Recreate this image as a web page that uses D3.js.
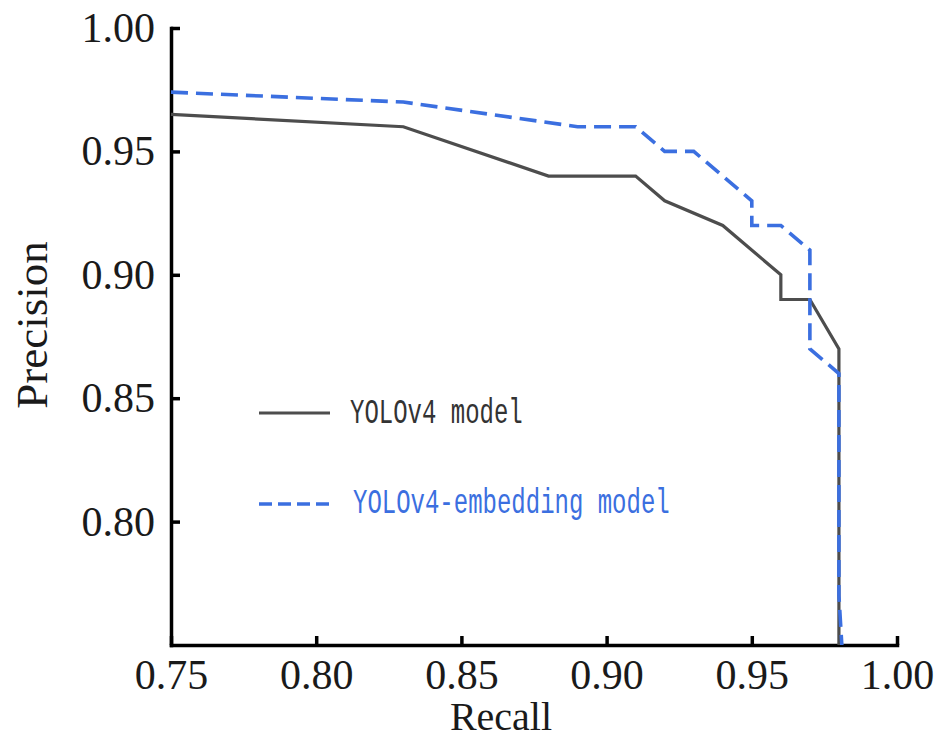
<!DOCTYPE html>
<html>
<head>
<meta charset="utf-8">
<script src="https://cdn.jsdelivr.net/npm/d3@7"></script>
<style>
  html, body { margin: 0; padding: 0; background: #fff; }
  svg { display: block; }
</style>
</head>
<body>
<svg id="chart" width="943" height="740"></svg>
<script>
// ---- data ----
const yoloRecall    = [0.75, 0.83, 0.88, 0.91, 0.92, 0.94, 0.96, 0.96, 0.97, 0.98, 0.98];
const yoloPrecision = [0.965, 0.96, 0.94, 0.94, 0.93, 0.92, 0.90, 0.89, 0.89, 0.87, 0.75];

const embRecall    = [0.75, 0.83, 0.89, 0.91, 0.92, 0.93, 0.95, 0.95, 0.96, 0.97, 0.97, 0.98, 0.98, 0.981];
const embPrecision = [0.974, 0.97, 0.96, 0.96, 0.95, 0.95, 0.93, 0.92, 0.92, 0.91, 0.87, 0.86, 0.77, 0.75];

const xTicks = [0.75, 0.80, 0.85, 0.90, 0.95, 1.00];
const yTicks = [0.80, 0.85, 0.90, 0.95, 1.00];
const seriesNames = ["YOLOv4 model", "YOLOv4-embedding model"];

// ---- layout ----
const svg = d3.select("#chart");
const x = d3.scaleLinear().domain([0.75, 1.00]).range([171, 897]);
const y = d3.scaleLinear().domain([0.75, 1.00]).range([645, 28]);

const grey = "#4d4d4d";
const blue = "#3b6fe0";
const serif = "'Liberation Serif', 'Times New Roman', serif";

// axes
const xAxis = d3.axisBottom(x).tickValues(xTicks).tickFormat(d3.format(".2f"))
  .tickSizeInner(-9).tickSizeOuter(0).tickPadding(14);
const yAxis = d3.axisLeft(y).tickValues(yTicks).tickFormat(d3.format(".2f"))
  .tickSizeInner(-9).tickSizeOuter(0).tickPadding(16);

const gx = svg.append("g").attr("transform", "translate(0,645)").call(xAxis);
const gy = svg.append("g").attr("transform", "translate(171,0)").call(yAxis);

[gx, gy].forEach(g => {
  g.select(".domain").attr("stroke", "#000").attr("stroke-width", 3.5).attr("stroke-linecap", "square");
  g.selectAll(".tick line").attr("stroke", "#000").attr("stroke-width", 3.5);
  g.selectAll(".tick text")
    .attr("fill", "#1a1a1a")
    .style("font-family", serif)
    .style("font-size", "42px");
});

// series
const line = d3.line().x(d => x(d[0])).y(d => y(d[1]));
const yoloData = yoloRecall.map((r, i) => [r, yoloPrecision[i]]);
const embData = embRecall.map((r, i) => [r, embPrecision[i]]);

svg.append("path").datum(yoloData)
  .attr("d", line).attr("fill", "none")
  .attr("stroke", grey).attr("stroke-width", 3.2).attr("stroke-linejoin", "miter");

svg.append("path").datum(embData)
  .attr("d", line).attr("fill", "none")
  .attr("stroke", blue).attr("stroke-width", 3.6)
  .attr("stroke-dasharray", "17,8");

// axis titles
svg.append("text")
  .attr("x", 501).attr("y", 730)
  .attr("text-anchor", "middle")
  .attr("fill", "#1a1a1a")
  .style("font-family", serif)
  .style("font-size", "40px")
  .text("Recall");

svg.append("text")
  .attr("transform", "translate(47,325) rotate(-90)")
  .attr("text-anchor", "middle")
  .attr("fill", "#1a1a1a")
  .style("font-family", serif)
  .style("font-size", "45px")
  .text("Precision");

// legend
const legendItems = [
  { name: seriesNames[0], color: grey, dash: null, textColor: "#333", ly: 413, tx: 350, ty: 423, w: 3.2 },
  { name: seriesNames[1], color: blue, dash: "13,6", textColor: blue, ly: 504, tx: 353, ty: 513, w: 3.6 }
];
legendItems.forEach(it => {
  svg.append("line")
    .attr("x1", 259).attr("x2", 330).attr("y1", it.ly).attr("y2", it.ly)
    .attr("stroke", it.color).attr("stroke-width", it.w)
    .attr("stroke-dasharray", it.dash);
  svg.append("text")
    .attr("transform", `translate(${it.tx},${it.ty}) scale(1,1.5)`)
    .attr("fill", it.textColor)
    .style("font-family", "'Liberation Mono', 'DejaVu Sans Mono', monospace")
    .style("font-size", "24px")
    .text(it.name);
});
</script>
</body>
</html>
